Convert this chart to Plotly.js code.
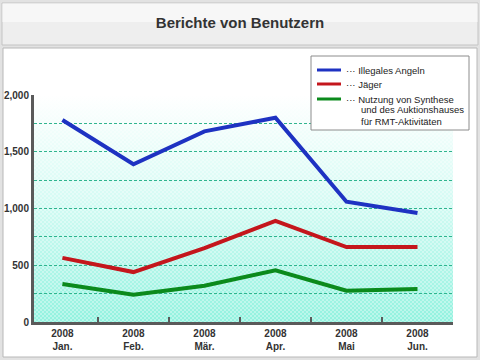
<!DOCTYPE html>
<html>
<head>
<meta charset="utf-8">
<script src="https://cdn.plot.ly/plotly-3.0.1.min.js"></script>
<style>html,body{margin:0;padding:0;background:#fff;}#chart{width:480px;height:360px;}</style>
</head>
<body>
<div id="chart"></div>
<script>
const months = ['2008<br>Jan.', '2008<br>Feb.', '2008<br>Mär.', '2008<br>Apr.', '2008<br>Mai', '2008<br>Jun.'];
const illegalesAngeln = [1780, 1390, 1680, 1800, 1060, 960];
const jaeger = [565, 440, 650, 890, 660, 660];
const synthese = [335, 240, 320, 455, 275, 290];
const seriesNames = ['Illegales Angeln', 'Jäger', 'Nutzung von Synthese', 'und des Auktionshauses', 'für RMT-Aktivitäten'];
const yTicks = [0, 500, 1000, 1500, 2000];
const yTickText = ['0', '500', '1,000', '1,500', '2,000'];

// pixel -> paper helpers (plot area: x 34..453, y 95..322)
const L = 34, R = 453, T = 95, B = 322;
const X = p => (p - L) / (R - L);
const Y = p => (B - p) / (B - T);

const colors = ['#1e32c2', '#c4161c', '#0b8a1c'];

const traces = [
  {x: months, y: illegalesAngeln, name: seriesNames[0]},
  {x: months, y: jaeger, name: seriesNames[1]},
  {x: months, y: synthese, name: seriesNames[2]}
].map((t, i) => Object.assign(t, {
  type: 'scatter', mode: 'lines', line: {color: colors[i], width: 4}, showlegend: false, hoverinfo: 'skip'
}));

const bgSvg = '<svg xmlns="http://www.w3.org/2000/svg" width="419" height="227" viewBox="0 0 419 227" preserveAspectRatio="none">' +
  '<defs><linearGradient id="g" x1="0" y1="0" x2="0" y2="1">' +
  '<stop offset="0" stop-color="#ffffff"/><stop offset="0.45" stop-color="#d6fbf4"/><stop offset="1" stop-color="#92f2df"/></linearGradient>' +
  '<pattern id="c" width="4" height="4" patternUnits="userSpaceOnUse"><rect x="0" y="0" width="2" height="2" fill="#ffffff" fill-opacity="0.35"/><rect x="2" y="2" width="2" height="2" fill="#ffffff" fill-opacity="0.35"/></pattern></defs>' +
  '<rect width="419" height="227" fill="url(#g)"/><rect width="419" height="227" fill="url(#c)"/></svg>';
const bgSrc = 'data:image/svg+xml;base64,' + btoa(bgSvg);

function rectPath(x0, y0, x1, y1) {
  return 'M' + X(x0) + ',' + Y(y0) + 'L' + X(x1) + ',' + Y(y0) + 'L' + X(x1) + ',' + Y(y1) + 'L' + X(x0) + ',' + Y(y1) + 'Z';
}

const shapes = [
  // gray outer frame
  {type: 'path', xref: 'paper', yref: 'paper', layer: 'below', fillrule: 'evenodd',
   path: rectPath(0, 0, 480, 360) + rectPath(3, 48, 477, 357), fillcolor: '#e2e2e2', line: {width: 0}},
  // title bar
  {type: 'rect', xref: 'paper', yref: 'paper', layer: 'below', x0: X(2), x1: X(478), y0: Y(3), y1: Y(45),
   fillcolor: '#eeeeee', line: {color: '#c4c4c4', width: 1}},
  {type: 'rect', xref: 'paper', yref: 'paper', layer: 'below', x0: X(2.5), x1: X(477.5), y0: Y(3.5), y1: Y(22),
   fillcolor: '#f7f7f7', line: {width: 0}},
  // panel border
  {type: 'rect', xref: 'paper', yref: 'paper', layer: 'below', x0: X(3), x1: X(477), y0: Y(48), y1: Y(357),
   fillcolor: 'rgba(0,0,0,0)', line: {color: '#b8b8b8', width: 1}},
  // legend box
  {type: 'rect', xref: 'paper', yref: 'paper', layer: 'above', x0: X(311), x1: X(469), y0: Y(56), y1: Y(130),
   fillcolor: '#ffffff', line: {color: '#8c8c8c', width: 1}},
];
const legendRows = [70, 84, 99];
legendRows.forEach((py, i) => {
  shapes.push({type: 'line', xref: 'paper', yref: 'paper', layer: 'above', x0: X(317), x1: X(341), y0: Y(py), y1: Y(py),
    line: {color: colors[i], width: 3}});
});

const lf = {family: 'Liberation Sans, Arial, sans-serif', size: 9.5, color: '#222'};
const annotations = [
  {text: '··· ' + seriesNames[0], x: X(344), y: Y(70)},
  {text: '··· ' + seriesNames[1], x: X(344), y: Y(84)},
  {text: '··· ' + seriesNames[2], x: X(344), y: Y(99)},
  {text: seriesNames[3], x: X(359), y: Y(110)},
  {text: seriesNames[4], x: X(359), y: Y(121)}
].map(a => Object.assign(a, {xref: 'paper', yref: 'paper', xanchor: 'left', yanchor: 'middle', showarrow: false, font: lf}));

const layout = {
  width: 480, height: 360,
  margin: {l: L, r: 480 - R, t: T, b: 360 - B, pad: 0},
  paper_bgcolor: '#ffffff',
  plot_bgcolor: 'rgba(0,0,0,0)',
  title: {text: 'Berichte von Benutzern', x: 0.5, xref: 'container', xanchor: 'center', y: 1 - 23 / 360, yref: 'container', yanchor: 'middle',
    font: {family: 'Liberation Sans, Arial, sans-serif', size: 15, color: '#333', weight: 'bold'}},
  showlegend: false,
  xaxis: {
    type: 'category', range: [-0.4, 5.5], tickson: 'boundaries', ticks: 'inside', ticklen: 5, tickwidth: 2, tickcolor: '#5a5a5a',
    showline: true, linecolor: '#5a5a5a', linewidth: 3, showgrid: false, zeroline: false, fixedrange: true,
    tickfont: {family: 'Liberation Sans, Arial, sans-serif', size: 10, color: '#333', weight: 'bold'}
  },
  yaxis: {
    range: [0, 2000], tickvals: yTicks, ticktext: yTickText, ticks: '', showline: true, linecolor: '#5a5a5a', linewidth: 3,
    showgrid: true, gridcolor: '#2fb48e', gridwidth: 1, griddash: '3px,2px', zeroline: false, fixedrange: true,
    minor: {dtick: 250, showgrid: true, gridcolor: '#2fb48e', gridwidth: 1, griddash: '3px,2px', ticks: ''},
    tickfont: {family: 'Liberation Sans, Arial, sans-serif', size: 10, color: '#333', weight: 'bold'}
  },
  images: [{source: bgSrc, xref: 'paper', yref: 'paper', x: 0, y: 1, sizex: 1, sizey: 1, sizing: 'stretch',
    xanchor: 'left', yanchor: 'top', layer: 'below'}],
  shapes: shapes,
  annotations: annotations
};

Plotly.newPlot('chart', traces, layout, {displayModeBar: false, staticPlot: true});
</script>
</body>
</html>
